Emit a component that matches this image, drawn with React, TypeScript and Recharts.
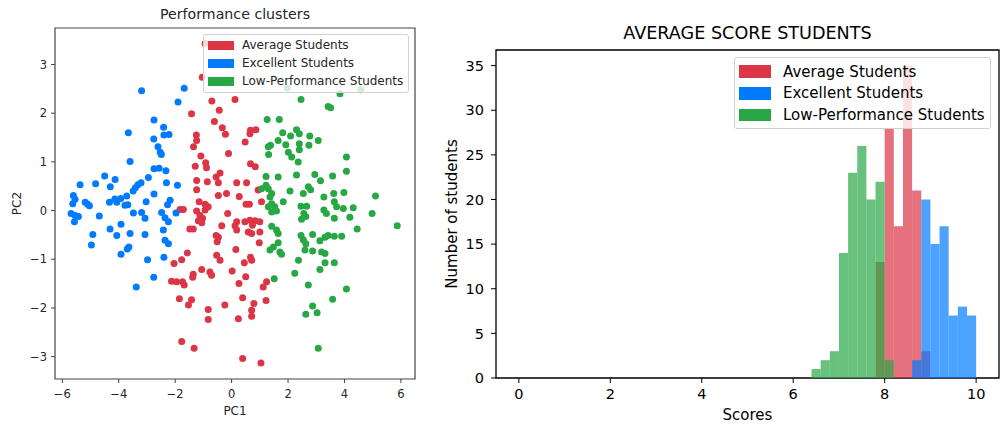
import { ScatterChart, Scatter, BarChart, Bar, XAxis, YAxis, ReferenceArea } from "recharts";

const RED = "#dc3545";
const BLUE = "#007bff";
const GREEN = "#28a745";

const groupNames = ["Average Students", "Excellent Students", "Low-Performance Students"];
const groupColors = [RED, BLUE, GREEN];

// PC1, PC2
const averageStudents: [number, number][] = [
  [-0.94, 3.43], [-1.04, 2.74], [-0.7, 2.25], [0.12, 2.28], [-1.42, 1.99], [-0.44, 2.06],
  [-0.61, 1.83], [-0.33, 1.7], [-0.22, 1.57], [0.67, 1.65], [0.86, 1.66], [0.65, 1.58],
  [-1.25, 1.55], [-1.24, 1.44], [-1.35, 1.31], [0.48, 1.41], [-0.11, 1.17], [-1.09, 1.12],
  [-0.92, 0.98], [-0.89, 0.88], [-1.29, 0.91], [0.67, 0.96], [0.84, 0.9], [-0.41, 0.77],
  [-0.55, 0.69], [-0.47, 0.57], [-1.24, 0.62], [0.18, 0.57], [0.53, 0.57], [-0.86, 0.59],
  [0.94, 0.42], [-1.24, 0.43], [-0.47, 0.31], [-0.18, 0.35], [0.27, 0.29], [0.51, 0.13],
  [0.63, 0.13], [1.06, 0.18], [-1.15, 0.18], [-0.94, 0.13], [-0.83, 0.08], [-1.24, -0.01],
  [-0.94, 0.01], [-1.12, -0.1], [-1.03, -0.16], [-1.18, -0.21], [-1.06, -0.25], [-1.71, 0.02],
  [-1.83, 0.02], [-0.14, -0.06], [0.18, -0.23], [0.12, -0.31], [0.18, -0.4], [0.47, -0.23],
  [0.65, -0.2], [0.83, -0.21], [1.0, -0.23], [0.74, -0.3], [0.59, -0.44], [0.71, -0.47],
  [1.0, -0.44], [0.98, -0.66], [-0.35, -0.31], [-1.36, -0.38], [-1.48, -0.38], [-0.55, -0.51],
  [-0.47, -0.55], [-0.51, -0.64], [0.15, -0.8], [-0.53, -0.92], [-0.41, -1.02], [-1.57, -0.87],
  [-1.77, -1.01], [-2.04, -1.09], [0.67, -0.96], [0.71, -1.02], [0.45, -1.07], [0.02, -1.24],
  [0.5, -1.36], [0.26, -1.5], [-1.06, -1.21], [-0.77, -1.26], [-0.71, -1.33], [-1.36, -1.31],
  [-1.38, -1.37], [1.24, -1.46], [1.12, -1.57], [-2.13, -1.45], [-1.95, -1.46], [-1.74, -1.46],
  [-1.68, -1.53], [0.39, -1.79], [-1.85, -1.81], [-1.42, -1.83], [-1.53, -1.94], [-0.83, -2.03],
  [-0.83, -2.24], [-0.24, -1.94], [0.79, -1.91], [0.71, -2.05], [0.71, -2.17], [1.22, -1.85],
  [0.24, -2.22], [-1.77, -2.69], [-1.33, -2.83], [0.39, -3.04], [1.04, -3.13],
];

const excellentStudents: [number, number][] = [
  [-3.19, 2.46], [-1.68, 2.51], [-1.9, 2.23], [-2.75, 1.86], [-3.66, 1.6], [-2.41, 1.71],
  [-2.4, 1.55], [-2.22, 1.56], [-2.76, 1.47], [-2.61, 1.31], [-2.53, 1.2], [-2.49, 1.15],
  [-3.6, 1.01], [-2.75, 0.86], [-2.57, 0.87], [-2.33, 0.82], [-4.5, 0.71], [-4.13, 0.64],
  [-4.3, 0.49], [-5.37, 0.53], [-4.82, 0.55], [-2.95, 0.68], [-3.21, 0.57], [-3.32, 0.53],
  [-3.41, 0.47], [-3.49, 0.4], [-2.31, 0.57], [-1.92, 0.52], [-2.75, 0.34], [-3.72, 0.3],
  [-3.93, 0.25], [-4.14, 0.24], [-4.33, 0.17], [-4.07, 0.17], [-3.78, 0.11], [-3.68, 0.12],
  [-5.61, 0.31], [-5.55, 0.23], [-5.63, 0.14], [-5.19, 0.17], [-5.1, 0.13], [-5.04, 0.1],
  [-3.03, 0.18], [-2.18, 0.21], [-2.27, 0.12], [-5.69, -0.06], [-5.55, -0.1], [-5.43, -0.12],
  [-5.57, -0.23], [-4.69, -0.11], [-3.48, -0.05], [-3.19, -0.04], [-3.07, -0.16], [-2.48, -0.04],
  [-2.36, -0.15], [-2.24, -0.23], [-1.97, -0.05], [-3.92, -0.28], [-4.31, -0.38], [-4.07, -0.51],
  [-3.6, -0.47], [-3.07, -0.49], [-4.92, -0.49], [-4.97, -0.71], [-3.64, -0.75], [-3.7, -0.79],
  [-3.92, -0.9], [-2.42, -0.4], [-2.36, -0.61], [-2.24, -0.68], [-2.98, -1.01], [-2.4, -0.96],
  [-2.76, -1.37], [-3.38, -1.57],
];

const lowStudents: [number, number][] = [
  [1.97, 2.52], [4.58, 2.48], [3.84, 2.4], [2.46, 2.28], [3.42, 2.14], [3.51, 2.11],
  [1.26, 1.87], [1.69, 1.87], [1.81, 1.6], [2.09, 1.53], [2.3, 1.66], [2.4, 1.58],
  [2.77, 1.53], [3.07, 1.44], [1.65, 1.44], [1.38, 1.34], [1.3, 1.31], [1.92, 1.35],
  [2.01, 1.2], [2.4, 1.37], [2.74, 1.34], [2.4, 1.25], [2.13, 1.1], [2.36, 1.0],
  [1.31, 1.15], [4.07, 1.1], [4.07, 0.81], [1.22, 0.7], [1.65, 0.69], [2.3, 0.73],
  [2.95, 0.74], [3.58, 0.71], [3.15, 0.61], [1.22, 0.52], [1.06, 0.45], [1.3, 0.45],
  [1.42, 0.35], [1.36, 0.28], [2.07, 0.4], [2.54, 0.35], [2.72, 0.49], [2.8, 0.43],
  [3.27, 0.28], [3.62, 0.35], [3.98, 0.37], [3.64, 0.18], [3.72, 0.08], [3.96, 0.04],
  [4.31, 0.06], [5.1, 0.3], [1.83, 0.18], [1.42, 0.14], [1.53, 0.08], [1.3, 0.08],
  [1.59, -0.01], [1.42, -0.03], [2.46, 0.09], [2.66, 0.09], [2.56, -0.06], [2.48, -0.18],
  [2.63, -0.12], [3.27, 0.01], [3.36, -0.06], [3.64, -0.16], [4.19, -0.14], [4.98, -0.06],
  [5.87, -0.31], [4.45, -0.38], [1.42, -0.32], [1.59, -0.4], [1.65, -0.47], [2.46, -0.51],
  [2.54, -0.6], [2.63, -0.68], [2.6, -0.81], [2.87, -0.49], [3.13, -0.62], [3.31, -0.55],
  [3.42, -0.51], [3.64, -0.53], [3.9, -0.53], [3.19, -0.85], [3.31, -0.88], [1.65, -0.66],
  [1.48, -0.75], [1.36, -0.81], [1.71, -0.85], [1.77, -0.9], [2.37, -1.02], [2.87, -0.83],
  [3.31, -1.07], [3.64, -1.07], [3.13, -1.21], [2.24, -1.29], [1.51, -1.4], [2.72, -1.53],
  [4.07, -1.61], [3.58, -1.82], [2.87, -1.96], [2.63, -2.13], [3.03, -2.1], [3.07, -2.83],
];

// histogram, bins of 0.2 (centres)
const binCenters = [6.5, 6.7, 6.9, 7.1, 7.3, 7.5, 7.7, 7.9, 8.1, 8.3, 8.5, 8.7, 8.9, 9.1, 9.3, 9.5, 9.7, 9.9];
const averageCounts = [0, 0, 0, 0, 0, 0, 0, 13, 28, 17, 35, 21, 3, 0, 0, 0, 0, 0];
const excellentCounts = [0, 0, 0, 0, 0, 0, 0, 0, 0, 0, 0, 2, 20, 15, 17, 7, 8, 7];
const lowCounts = [1, 2, 3, 14, 23, 26, 20, 22, 2, 0, 0, 0, 0, 0, 0, 0, 0, 0];

const pcXTicks = [-6, -4, -2, 0, 2, 4, 6];
const pcYTicks = [-3, -2, -1, 0, 1, 2, 3];
const scoreTicks = [0, 2, 4, 6, 8, 10];
const countTicks = [0, 5, 10, 15, 20, 25, 30, 35];

const PC_X: [number, number] = [-6.26, 6.5];
const PC_Y: [number, number] = [-3.46, 3.75];
const SCORE_X: [number, number] = [-0.5, 10.5];
const COUNT_Y: [number, number] = [0, 36.75];

const histData = binCenters.map((bin, i) => ({
  bin,
  average: averageCounts[i],
  excellent: excellentCounts[i],
  low: lowCounts[i],
}));

// plot is 503px wide over 11 units, bins are 0.2 wide; keep just under the band so recharts doesn't shrink it
const BAR_W = 9.14;

const toPoints = (arr: [number, number][]) => arr.map(([x, y]) => ({ x, y }));
const fmt = (v: number) => (v < 0 ? `\u2212${Math.abs(v)}` : `${v}`);

const dot = (color: string) => (p: any) => <circle cx={p.cx} cy={p.cy} r={3.5} fill={color} />;

const LegendBox = ({
  left, top, width, height, first, gap, patchW, patchH, textLeft, fontSize, color,
}: {
  left: number; top: number; width: number; height: number; first: number; gap: number;
  patchW: number; patchH: number; textLeft: number; fontSize: number; color: string;
}) => (
  <div
    style={{
      position: "absolute", left, top, width, height, boxSizing: "border-box",
      border: "1px solid #d0d0d0", borderRadius: 3, background: "rgba(255,255,255,0.8)",
    }}
  >
    {groupNames.map((name, i) => (
      <div key={name}>
        <div
          style={{
            position: "absolute", left: 4, top: first + i * gap - patchH / 2,
            width: patchW, height: patchH, background: groupColors[i],
          }}
        />
        <div
          style={{
            position: "absolute", left: textLeft, top: first + i * gap - fontSize * 0.6,
            fontSize, lineHeight: `${fontSize * 1.2}px`, color, whiteSpace: "nowrap",
          }}
        >
          {name}
        </div>
      </div>
    ))}
  </div>
);

const ClusterChart = () => (
  <div style={{ position: "absolute", left: 0, top: 0 }}>
    <div
      style={{
        position: "absolute", left: 55, width: 360, top: 6, textAlign: "center",
        fontSize: 14.2, color: "#262626",
      }}
    >
      Performance clusters
    </div>
    <ScatterChart width={420} height={425} margin={{ top: 28, right: 5, bottom: 0, left: 0 }}>
      <XAxis
        type="number" dataKey="x" domain={PC_X} ticks={pcXTicks} allowDataOverflow
        height={46} tickSize={4} tickMargin={7} tickFormatter={fmt} axisLine={false}
        tickLine={{ stroke: "#444" }} tick={{ fontSize: 11.5, fill: "#262626" }}
        label={{ value: "PC1", position: "insideBottom", offset: 10, fontSize: 12, fill: "#262626" }}
      />
      <YAxis
        type="number" dataKey="y" domain={PC_Y} ticks={pcYTicks} allowDataOverflow
        width={55} tickSize={4} tickMargin={4} tickFormatter={fmt} axisLine={false}
        tickLine={{ stroke: "#444" }} tick={{ fontSize: 11.5, fill: "#262626" }}
        label={{
          value: "PC2", angle: -90, position: "insideLeft", offset: 17,
          fontSize: 12, fill: "#262626", style: { textAnchor: "middle" },
        }}
      />
      <Scatter data={toPoints(averageStudents)} shape={dot(RED)} isAnimationActive={false} />
      <Scatter data={toPoints(excellentStudents)} shape={dot(BLUE)} isAnimationActive={false} />
      <Scatter data={toPoints(lowStudents)} shape={dot(GREEN)} isAnimationActive={false} />
      <ReferenceArea x1={PC_X[0]} x2={PC_X[1]} y1={PC_Y[0]} y2={PC_Y[1]} fill="none" stroke="#444" strokeWidth={1.2} />
    </ScatterChart>
    <LegendBox
      left={203} top={34} width={206} height={59} first={10} gap={18.3}
      patchW={26} patchH={9} textLeft={38} fontSize={12} color="#262626"
    />
  </div>
);

const ScoreHistogram = () => (
  <div style={{ position: "absolute", left: 420, top: 0 }}>
    <div
      style={{
        position: "absolute", left: 76, width: 503, top: 23, textAlign: "center",
        fontSize: 17.6, color: "#000",
      }}
    >
      AVERAGE SCORE STUDENTS
    </div>
    <BarChart
      width={580} height={425} data={histData}
      margin={{ top: 50, right: 1, bottom: 0, left: 0 }} barGap={0} barCategoryGap={0}
    >
      <XAxis
        xAxisId="a" type="number" dataKey="bin" domain={SCORE_X} ticks={scoreTicks} allowDataOverflow
        height={47} tickSize={5} tickMargin={6} axisLine={false}
        tickLine={{ stroke: "#000" }} tick={{ fontSize: 14.5, fill: "#000" }}
        label={{ value: "Scores", position: "insideBottom", offset: 5, fontSize: 15, fill: "#000" }}
      />
      <XAxis xAxisId="b" type="number" dataKey="bin" domain={SCORE_X} allowDataOverflow hide />
      <XAxis xAxisId="c" type="number" dataKey="bin" domain={SCORE_X} allowDataOverflow hide />
      <YAxis
        type="number" domain={COUNT_Y} ticks={countTicks} allowDataOverflow
        width={76} tickSize={5} tickMargin={7} axisLine={false}
        tickLine={{ stroke: "#000" }} tick={{ fontSize: 14.5, fill: "#000" }}
        label={{
          value: "Number of students", angle: -90, position: "insideLeft", offset: 32,
          fontSize: 15, fill: "#000", style: { textAnchor: "middle" },
        }}
      />
      <Bar xAxisId="a" dataKey="average" fill={RED} fillOpacity={0.7} barSize={BAR_W} isAnimationActive={false} />
      <Bar xAxisId="b" dataKey="excellent" fill={BLUE} fillOpacity={0.7} barSize={BAR_W} isAnimationActive={false} />
      <Bar xAxisId="c" dataKey="low" fill={GREEN} fillOpacity={0.7} barSize={BAR_W} isAnimationActive={false} />
      <ReferenceArea
        xAxisId="a" x1={SCORE_X[0]} x2={SCORE_X[1]} y1={COUNT_Y[0]} y2={COUNT_Y[1]}
        fill="none" stroke="#000" strokeWidth={1.3}
      />
    </BarChart>
    <LegendBox
      left={314} top={57} width={257} height={72} first={13.7} gap={21.7}
      patchW={32} patchH={12.5} textLeft={48} fontSize={15} color="#000"
    />
  </div>
);

export default function App() {
  return (
    <div
      style={{
        position: "absolute", left: 0, top: 0, width: 1000, height: 425,
        background: "#fff", fontFamily: "'DejaVu Sans', sans-serif", overflow: "hidden",
      }}
    >
      <ClusterChart />
      <ScoreHistogram />
    </div>
  );
}
